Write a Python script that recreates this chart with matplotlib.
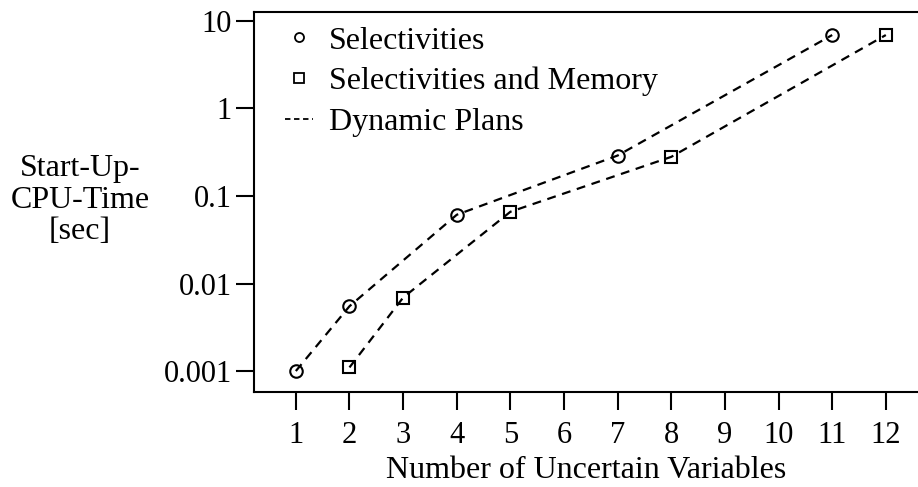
import matplotlib.pyplot as plt
from matplotlib.lines import Line2D

plt.rcParams['font.family'] = ['Liberation Serif', 'DejaVu Serif']

sel_x = [1, 2, 4, 7, 11]
sel_y = [0.001, 0.0055, 0.061, 0.29, 6.9]

mem_x = [2, 3, 5, 8, 12]
mem_y = [0.0011, 0.0069, 0.066, 0.28, 6.9]

xticks = list(range(1, 13))
yticks = [0.001, 0.01, 0.1, 1, 10]
ytick_labels = ['0.001', '0.01', '0.1', '1', '10']

fig = plt.figure(figsize=(9.18, 4.87), dpi=100)
ax = fig.add_axes([0.2767, 0.195, 0.7233, 0.78])

ax.plot(sel_x, sel_y, ls=(0, (4, 3)), color='black', lw=1.6,
        marker='o', ms=9, mfc='none', mec='black', mew=1.5)
ax.plot(mem_x, mem_y, ls=(0, (4, 3)), color='black', lw=1.6,
        marker='s', ms=9, mfc='none', mec='black', mew=1.5)

ax.set_yscale('log')
ax.set_xlim(0.22, 12.6)
ax.set_ylim(10 ** -3.24, 10 ** 1.1)
ax.set_xticks(xticks)
ax.set_xticklabels([str(x) for x in xticks])
ax.set_yticks(yticks)
ax.set_yticklabels(ytick_labels)
ax.minorticks_off()
ax.tick_params(length=13, width=1.5, labelsize=22, pad=3)
ax.tick_params(axis='x', pad=8)

for s in ['left', 'top', 'bottom']:
    ax.spines[s].set_linewidth(1.5)
ax.spines['right'].set_visible(False)

ax.set_xlabel('Number of Uncertain Variables', fontsize=23, labelpad=4)
fig.text(0.087, 0.589, 'Start-Up-\nCPU-Time\n[sec]', fontsize=23,
         ha='center', va='center', linespacing=1.12)

handles = [
    Line2D([], [], ls='none', marker='o', ms=6.5, mfc='none', mec='black', mew=1.3),
    Line2D([], [], ls='none', marker='s', ms=6.5, mfc='none', mec='black', mew=1.3),
    Line2D([], [], ls=(0, (3, 2)), color='black', lw=1.3),
]
ax.legend(handles, ['Selectivities', 'Selectivities and Memory', 'Dynamic Plans'],
          loc='upper left', frameon=False, fontsize=23, handlelength=0.9,
          handletextpad=0.5, labelspacing=0.35, borderaxespad=0.1,
          bbox_to_anchor=(0.022, 1.005))

fig.savefig('out.png', dpi=100)
